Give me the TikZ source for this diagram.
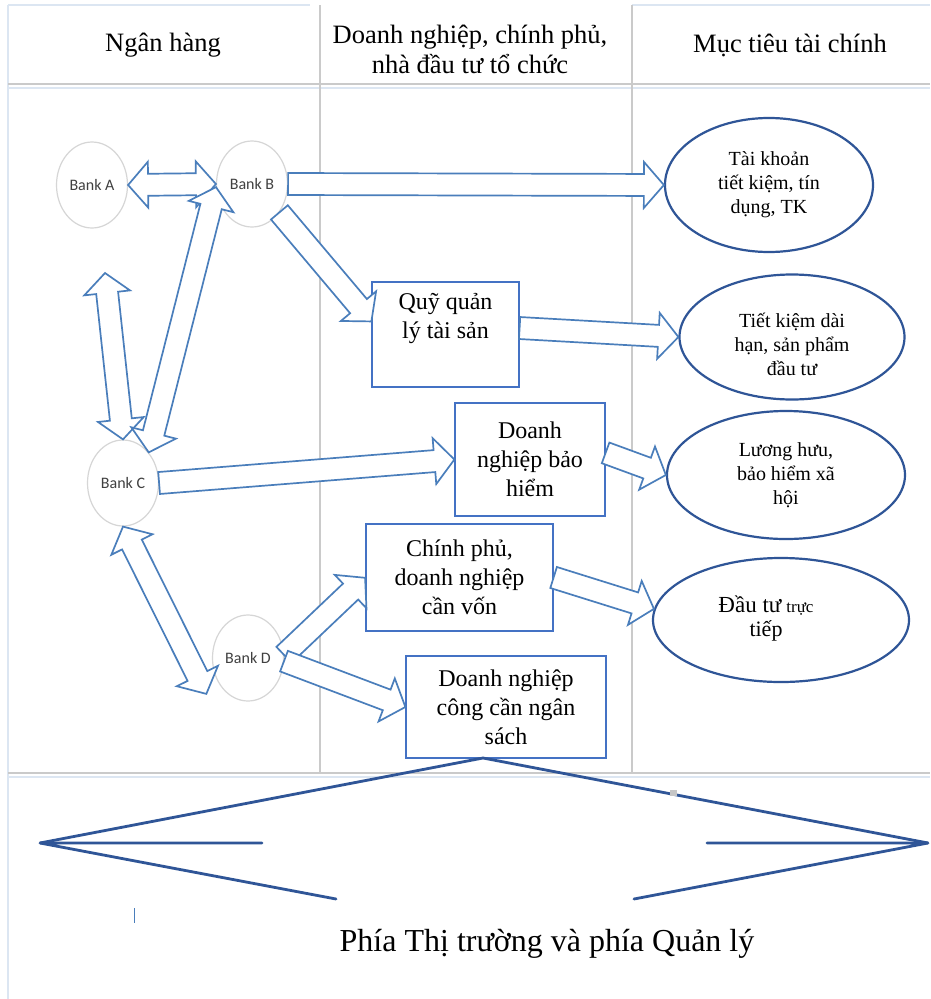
\documentclass[tikz,border=0pt]{standalone}
\usepackage{fontspec}
\setmainfont{Liberation Serif}
\newfontfamily\bankfont{Carlito}
\usetikzlibrary{calc,shapes.geometric}
\definecolor{gridgray}{HTML}{CACACA}
\definecolor{gridblue}{HTML}{DCE6F2}
\definecolor{arrblue}{HTML}{4A7EBB}
\definecolor{boxblue}{HTML}{4472C4}
\definecolor{ellblue}{HTML}{2F5597}
\definecolor{circgray}{HTML}{D6D6D6}
\definecolor{banktext}{HTML}{404040}

% block arrow sizes: half shaft width, half head width, head length
\def\blksw{11}
\def\blkhw{23}
\def\blkhl{20}

% \blk{1 or 2 heads}{tail point}{tip point}
\newcommand\blk[3]{%
  \path let \p1=(#2), \p2=(#3) in
    \pgfextra{%
      \pgfmathsetmacro\blkang{atan2(\y2-\y1,\x2-\x1)}%
      \pgfmathsetmacro\blklen{veclen(\x2-\x1,\y2-\y1)}%
      \xdef\blkang{\blkang}\xdef\blklen{\blklen}};
  \begin{scope}[shift={(#2)}, rotate=\blkang, x=1pt, y=1pt]
    \ifnum#1=1
      \draw[blockarr] (0,\blksw) -- (\blklen-\blkhl,\blksw) -- (\blklen-\blkhl,\blkhw) -- (\blklen,0)
        -- (\blklen-\blkhl,-\blkhw) -- (\blklen-\blkhl,-\blksw) -- (0,-\blksw) -- cycle;
    \else
      \draw[blockarr] (0,0) -- (\blkhl,\blkhw) -- (\blkhl,\blksw) -- (\blklen-\blkhl,\blksw)
        -- (\blklen-\blkhl,\blkhw) -- (\blklen,0) -- (\blklen-\blkhl,-\blkhw)
        -- (\blklen-\blkhl,-\blksw) -- (\blkhl,-\blksw) -- (\blkhl,-\blkhw) -- cycle;
    \fi
  \end{scope}}

\begin{document}
\begin{tikzpicture}[x=1pt,y=-1pt,
  grid/.style={draw=gridgray, line width=1.3pt},
  gridlight/.style={draw=gridblue, line width=1.6pt},
  blockarr/.style={draw=arrblue, line width=1.7pt, fill=white, line join=miter},
  bank/.style={ellipse, draw=circgray, line width=1.2pt, fill=white, inner sep=0pt,
    minimum width=71pt, minimum height=86pt, text=banktext,
    font=\bankfont\fontsize{16}{19}\selectfont},
  fbox/.style={rectangle, draw=boxblue, line width=1.2pt, fill=white, align=center,
    inner sep=0pt, font=\fontsize{24}{29}\selectfont},
  goal/.style={ellipse, draw=ellblue, line width=2.2pt, fill=white, align=center,
    inner sep=0pt, font=\fontsize{20}{24}\selectfont},
  goaltext/.style={align=center, inner sep=0pt, font=\fontsize{20}{24}\selectfont},
  head/.style={align=center, font=\fontsize{26.5}{30}\selectfont},
  footline/.style={draw=ellblue, line width=2.8pt, line cap=round, line join=miter}]

\useasboundingbox (0,0) rectangle (930,999);
\fill[white] (0,0) rectangle (930,999);

% table frame
\draw[gridlight] (8,5) -- (310,5);
\draw[gridlight] (632,5) -- (930,5);
\draw[gridlight] (8,5) -- (8,999);
\draw[grid] (8,84) -- (930,84);
\draw[gridlight] (8,88) -- (930,88);
\draw[grid] (320,5) -- (320,773);
\draw[grid] (632,5) -- (632,773);
\draw[grid] (8,773) -- (930,773);
\draw[gridlight] (8,777) -- (930,777);

% column headings
\node[head] (h1) at (163,45) {Ngân hàng};
\node[head] (h2) at (470,49) {Doanh nghiệp, chính phủ,\\nhà đầu tư tổ chức};
\node[head] (h3) at (790,45) {Mục tiêu tài chính};

% banks
\node[bank] (bankA) at (92,185) {Bank A};
\node[bank] (bankB) at (252,184) {Bank B};
\node[bank] (bankC) at (123,483) {Bank C};
\node[bank] (bankD) at (248,658) {Bank D};

% intermediaries
\node[fbox, minimum width=147pt, minimum height=105pt] (quy) at (445.5,334.5) {Quỹ quản\\lý tài sản\\\strut};
\node[fbox, minimum width=150pt, minimum height=113pt] (bh) at (530,459.5) {Doanh\\nghiệp bảo\\hiểm};
\node[fbox, minimum width=187pt, minimum height=107pt] (cp) at (459.5,577.5) {Chính phủ,\\doanh nghiệp\\cần vốn};
\node[fbox, minimum width=200pt, minimum height=102pt] (dnc) at (506,707) {Doanh nghiệp\\công cần ngân\\sách};

% financial goals
\node[goal, minimum width=208pt, minimum height=134pt] (tk) at (769,185) {Tài khoản\\tiết kiệm, tín\\dụng, TK};
\node[goal, minimum width=225pt, minimum height=125pt] (tkdh) at (792,337) {};
\node[goaltext] (tkdhtext) at (792,344) {Tiết kiệm dài\\hạn, sản phẩm\\đầu tư};
\node[goal, minimum width=238pt, minimum height=128pt] (lh) at (786,475) {Lương hưu,\\bảo hiểm xã\\hội};
\node[goal, minimum width=256pt, minimum height=124pt] (dt) at (781,620) {};
\node[goaltext] (dttext) at (766,619)
  {{\fontsize{23}{28}\selectfont Đầu tư} {\fontsize{17}{28}\selectfont trực}\\{\fontsize{22}{28}\selectfont tiếp}};

% flows between banks
\coordinate (acTop) at (105,273);
\blk{2}{bankA.east}{bankB.west}
\blk{2}{acTop}{bankC.north}
\blk{2}{bankB.185}{bankC.50}
\blk{2}{bankC.south}{[shift={(-12,11)}]bankD.220}

% flows to intermediaries and goals
\blk{1}{bankB.-46}{quy.170}
\blk{1}{bankB.east}{tk.west}
\blk{1}{quy.5}{tkdh.west}
\blk{1}{bankC.east}{bh.west}
\blk{1}{bh.5}{lh.west}
\blk{1}{bankD.5}{cp.west}
\blk{1}{bankD.-5}{dnc.west}
\blk{1}{cp.east}{dt.175}

% market side / regulator side
\coordinate (apex) at (483,758);
\coordinate (lt) at (40,843);
\coordinate (rt) at (928,843);
\coordinate (lbar) at (262,843);
\coordinate (rbar) at (707,843);
\coordinate (lcut) at (336,899);
\coordinate (rcut) at (634,899);
\draw[footline] (lt) -- (apex) -- (rt);
\draw[footline] (lcut) -- (lt) -- (lbar);
\draw[footline] (rcut) -- (rt) -- (rbar);

\fill[gray!45] (670,790) rectangle (677,796);
\draw[arrblue, line width=0.8pt] (134,908) -- (134,923);

\node[font=\fontsize{32}{38}\selectfont] (foot) at (547,944) {Phía Thị trường và phía Quản lý};
\end{tikzpicture}
\end{document}
